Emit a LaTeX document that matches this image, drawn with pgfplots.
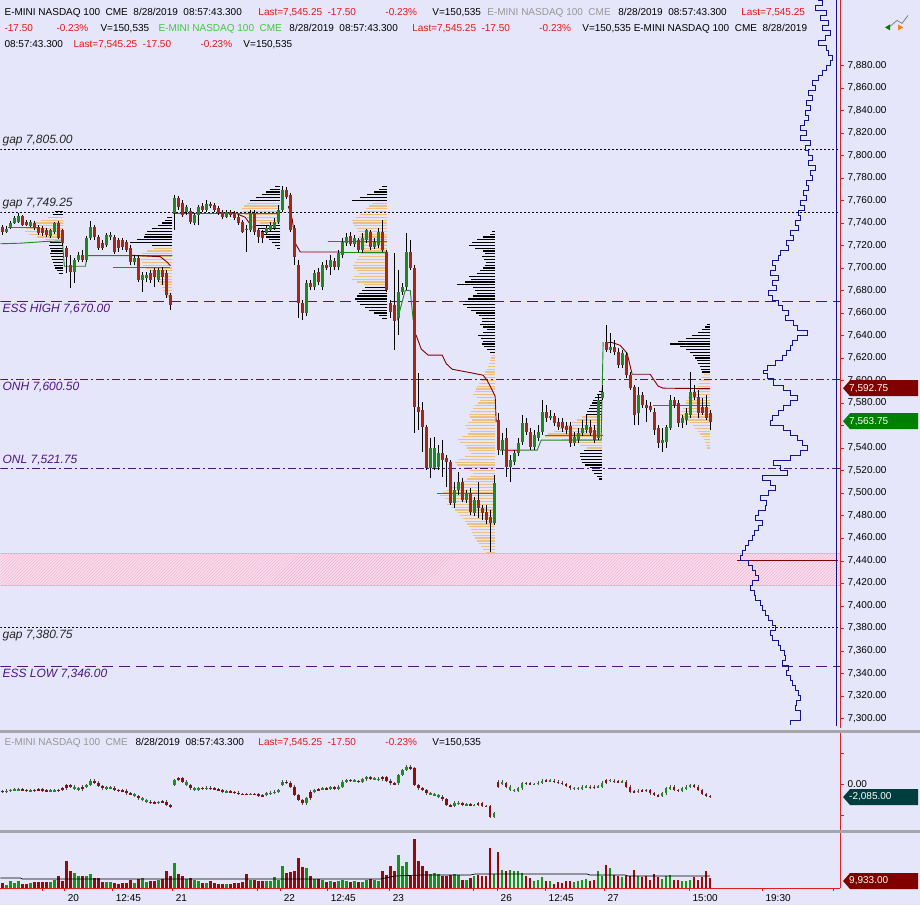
\documentclass[border=0pt]{standalone}
\usepackage{pgfplots}
\pgfplotsset{compat=1.18}
\usepackage{pgfplotstable}
\usepackage{fontspec}
\setmainfont{Liberation Sans}
\usetikzlibrary{patterns}
\definecolor{bg}{RGB}{230,230,250}
\definecolor{axred}{RGB}{220,30,30}
\definecolor{cred}{RGB}{165,40,20}
\definecolor{cgreen}{RGB}{30,135,30}
\definecolor{vred}{RGB}{150,10,10}
\definecolor{vgreen}{RGB}{20,150,20}
\definecolor{tanc}{RGB}{238,192,128}
\definecolor{purp}{RGB}{80,20,130}
\definecolor{maroonc}{RGB}{128,0,0}
\definecolor{pocred}{RGB}{235,40,40}
\definecolor{navyc}{RGB}{20,20,140}
\definecolor{pinkfill}{RGB}{248,222,236}
\definecolor{hatchc}{RGB}{240,175,205}
\definecolor{hdrred}{RGB}{230,20,20}
\definecolor{hdrgray}{RGB}{150,150,150}
\definecolor{hdrgreen}{RGB}{60,200,60}
\definecolor{tealbox}{RGB}{0,62,62}
\definecolor{boxgreen}{RGB}{0,128,0}
\definecolor{sepgray}{RGB}{165,165,170}
\pgfplotsset{
  ebase/.style={draw=none, mark=none, error bars/error mark=none},
  wick/.style={ebase, error bars/y dir=both, error bars/y explicit, error bars/error bar style={draw=black, line width=0.7pt}},
  body/.style={ebase, error bars/y dir=both, error bars/y explicit, error bars/error bar style={draw=#1, line width=3pt}},
  vbar/.style={ebase, error bars/y dir=both, error bars/y explicit, error bars/error bar style={draw=#1, line width=2.6pt}},
  prof/.style={ebase, error bars/x dir=minus, error bars/x explicit, error bars/error bar style={draw=#1, line width=1.2pt}},
  panel/.style={scale only axis, anchor=north west, width=840pt, xmin=0, xmax=840,
    axis background/.style={fill=bg}, axis line style={draw=axred, line width=0.8pt},
    tick align=outside, major tick length=4pt, tick style={draw=axred},
    tick label style={font=\fontsize{10}{12}\selectfont},
    /pgf/number format/assume math mode=true},
}
% x open high low close volume deltaopen deltaclose
\pgfplotstableread{
x o h l c v do dc
2 7736.1 7737.9 7729 7731.7 5200 -1100 -1230
22 7745.9 7746.8 7737 7737.9 4100 -850 -960
26 7740.6 7742.3 7737 7737.9 4300 -960 -1070
34 7739.7 7741.5 7733.5 7735.2 6100 -1010 -960
38 7736.1 7737.9 7729 7730.8 6000 -960 -850
42 7735.2 7737 7728.1 7730.8 6200 -850 -1070
46 7733.5 7735.2 7727.2 7729 5900 -1070 -1120
58 7739.7 7741.5 7725.5 7727.2 12100 -1070 -960
62 7733.5 7735.2 7720.1 7721.9 7200 -960 -690
66 7717.5 7719.3 7695.3 7709.5 27300 -690 -160
70 7702.4 7711.3 7682 7696.2 17100 -160 -430
82 7711.3 7715.7 7705 7706.8 12000 -850 -430
94 7736.1 7737.9 7724.6 7727.2 10200 530 210
98 7727.2 7729 7715.7 7717.5 9800 210 -320
102 7721.9 7724.6 7715.7 7717.5 6000 -320 -690
114 7727.2 7729 7712.1 7713.9 5100 -590 -960
118 7724.6 7726.4 7713.9 7717.5 4200 -960 -1070
122 7724.6 7726.4 7715.7 7718.4 5000 -1070 -1070
126 7722.8 7724.6 7713.9 7715.7 5100 -1070 -1490
130 7717.5 7720.1 7702.4 7705 8200 -1490 -1600
138 7708.6 7711.3 7687.3 7689.1 9100 -1920 -2290
150 7695.3 7697.9 7686.4 7689.1 7100 -2830 -2990
154 7697.9 7699.7 7682.8 7691.7 6900 -2990 -2990
162 7697.9 7700.6 7684.6 7691.7 9200 -2880 -2830
166 7695.3 7697.9 7673.1 7675.7 17200 -2830 -3360
170 7675.7 7677.5 7662.4 7666.9 12100 -3360 -3630
178 7761.9 7764.5 7751.2 7753.9 14100 640 910
182 7757.4 7760.1 7745 7746.8 12000 910 370
190 7750.3 7753 7738.8 7740.6 10100 -160 -690
202 7754.8 7757.4 7749.4 7751.2 5000 -690 -690
210 7756.5 7758.3 7753 7754.8 7100 -590 -690
214 7755.7 7757.4 7749.4 7751.2 5100 -690 -800
218 7753 7754.8 7746.8 7748.6 4200 -800 -960
222 7749.4 7751.2 7743.2 7745 4100 -960 -1230
230 7749.4 7751.2 7745 7746.8 4000 -1230 -1280
234 7748.6 7750.3 7742.3 7744.1 5200 -1280 -1390
238 7745 7746.8 7737.9 7739.7 5100 -1390 -1600
242 7740.6 7742.3 7730.8 7731.7 6200 -1600 -1600
246 7735.2 7737.9 7713.9 7733.5 14200 -1600 -1600
254 7748.6 7751.2 7729 7731.7 8100 -1600 -1600
258 7733.5 7735.2 7721.9 7727.2 7200 -1600 -1920
262 7731.7 7733.5 7721.9 7727.2 6900 -1920 -1760
286 7769 7771.6 7761 7762.8 15200 370 210
290 7764.5 7766.3 7731.7 7733.5 16100 210 -430
294 7735.2 7737.9 7702.4 7709.5 17200 -430 -1760
298 7702.4 7706.8 7655.3 7668.6 30100 -1760 -2560
302 7668.6 7671.3 7653.5 7659.8 21200 -2560 -3090
310 7686.4 7689.1 7680.2 7682.8 12000 -2290 -1230
318 7696.2 7699.7 7684.6 7687.3 9000 -960 -800
326 7702.4 7706.8 7697.9 7699.7 6100 -750 -690
334 7705.9 7708.6 7697.9 7700.6 6000 -530 -690
350 7728.1 7731.7 7719.3 7721 6200 640 530
358 7724.6 7726.4 7713.9 7715.7 6100 480 370
370 7731.7 7733.5 7715.7 7718.4 9100 1070 910
382 7731.7 7742.3 7713.9 7715.7 17100 750 1070
386 7713.9 7715.7 7678.4 7680.2 13000 1070 530
390 7668.6 7671.3 7655.3 7660.6 22100 530 110
394 7666.9 7713 7626.9 7653.5 17000 110 0
410 7713.9 7724.6 7697.9 7699.7 12100 2770 2510
414 7699.7 7702.4 7553.2 7576.3 49200 2510 -160
418 7576.3 7606.5 7555.9 7571.8 27100 -160 -690
422 7573.6 7580.7 7536.3 7558.5 22000 -690 -960
426 7558.5 7560.3 7520.3 7522.1 17100 -960 -1490
442 7535.4 7547 7514.1 7529.2 12100 -2030 -2450
446 7531 7533.7 7505.2 7527.4 12000 -2450 -3360
450 7527.4 7529.2 7489.3 7491 13100 -3360 -3520
462 7509.7 7513.2 7491.9 7493.7 8100 -3090 -3250
470 7499.9 7504.4 7480.4 7483 10200 -3310 -3360
478 7493.7 7509.7 7477.7 7486.6 13000 -3360 -3090
482 7486.6 7489.3 7475.9 7482.2 12100 -3090 -3520
486 7483 7489.3 7472.4 7475.9 11900 -3520 -3520
490 7478.6 7484.8 7447.5 7473.3 40200 -3520 -5230
498 7564.7 7571 7533.7 7538.1 36100 -430 370
506 7548.8 7557.6 7514.1 7523 17000 110 -430
526 7562.1 7566.5 7551.4 7554.1 12000 110 110
530 7554.1 7557.6 7538.1 7540.8 10100 110 0
546 7571.8 7578.1 7563 7566.5 7100 530 530
554 7568.3 7571 7559.4 7562.1 4200 530 370
558 7563 7566.5 7555.9 7558.5 6100 370 210
562 7563 7566.5 7554.1 7557.6 5000 210 0
566 7559.4 7563 7552.3 7555.9 7100 0 -320
570 7559.4 7563 7540.8 7544.3 7000 -320 -690
590 7558.5 7564.7 7550.5 7553.2 7100 -430 -590
594 7555.9 7560.3 7544.3 7547 8000 -590 -430
606 7634 7649.1 7625.1 7626.9 23100 210 640
614 7629.6 7635.8 7622.5 7625.1 13000 530 370
618 7625.1 7628.7 7610.9 7613.6 12100 370 370
626 7622.5 7625.1 7602 7604.7 12000 370 -430
630 7604.7 7607.4 7591.4 7593.2 12200 -430 -1230
634 7594 7595.8 7560.3 7569.2 18100 -1230 -1230
642 7586.9 7589.6 7575.4 7578.1 11000 -1070 -1070
646 7578.1 7582.5 7563 7575.4 12100 -1070 -960
650 7577.2 7580.7 7571.8 7573.6 8000 -960 -1490
654 7571.8 7575.4 7551.4 7555.9 14100 -1490 -1760
658 7557.6 7560.3 7539.9 7544.3 11000 -1760 -1920
674 7582.5 7585.2 7575.4 7578.1 8100 -430 -960
678 7579.8 7582.5 7558.5 7562.1 8000 -960 -1070
694 7589.6 7595.8 7582.5 7585.2 11000 -160 -430
698 7585.2 7591.4 7566.5 7571 8100 -430 -960
702 7576.3 7584.3 7569.2 7571 11100 -960 -1600
706 7576.3 7586.9 7564.7 7566.5 17100 -1600 -1920
710 7571 7573.6 7555.9 7563 9900 -1920 -2030
}\tabR
\pgfplotstableread{
x o h l c v do dc
6 7731.7 7737 7730.8 7735.2 3100 -1230 -1070
10 7735.2 7741.5 7734.3 7739.7 7000 -1070 -960
14 7739.7 7745.9 7738.8 7744.1 5100 -960 -910
18 7740.6 7749.4 7739.7 7745.9 7200 -910 -850
30 7737 7742.3 7736.1 7740.6 5000 -1070 -1010
50 7728.1 7734.3 7726.4 7733.5 6100 -1120 -1070
54 7731.7 7740.6 7729.9 7739.7 8000 -1070 -1070
74 7696.2 7708.6 7686.4 7706.8 15100 -430 -690
78 7706.8 7713.9 7705 7711.3 12200 -690 -850
86 7706.8 7728.1 7705 7726.4 12100 -430 -160
90 7726.4 7742.3 7724.6 7736.1 14000 -160 530
106 7720.1 7730.8 7718.4 7729 6100 -690 -530
110 7727.2 7731.7 7724.6 7729 5900 -530 -590
134 7705 7711.3 7702.4 7708.6 5200 -1600 -1920
142 7689.1 7696.2 7678.4 7693.5 10100 -2290 -2560
146 7690.8 7696.2 7687.3 7693.5 6000 -2560 -2830
158 7689.1 7699.7 7687.3 7697.9 8100 -2990 -2880
174 7748.6 7764.5 7733.5 7761.9 25100 -160 640
186 7749.4 7755.7 7746.8 7753.9 9000 370 -160
194 7739.7 7748.6 7737.9 7746.8 8200 -690 -850
198 7746.8 7755.7 7737.9 7753.9 7100 -850 -690
206 7751.2 7760.1 7749.4 7756.5 5200 -690 -590
226 7745 7751.2 7744.1 7749.4 4000 -1230 -1230
250 7733.5 7751.2 7731.7 7748.6 8000 -1600 -1600
266 7730.8 7737.9 7729 7735.2 7100 -1760 -1490
270 7733.5 7740.6 7731.7 7737.9 7000 -1490 -1390
274 7735.2 7744.1 7733.5 7740.6 11100 -1390 -1230
278 7740.6 7755.7 7738.8 7751.2 8000 -1230 -960
282 7751.2 7772.5 7749.4 7769 22100 -160 370
306 7659.8 7689.1 7657.1 7686.4 20100 -3090 -2290
314 7682.8 7697.9 7680.2 7695.3 9100 -1230 -960
322 7682.8 7705 7680.2 7702.4 8000 -800 -750
330 7700.6 7711.3 7693.5 7706.8 7000 -690 -530
338 7700.6 7715.7 7697.9 7713 7100 -690 -430
342 7711.3 7726.4 7708.6 7722.8 8000 -430 370
346 7721.9 7730.8 7719.3 7727.2 7100 370 640
354 7721 7729 7718.4 7726.4 7000 530 480
362 7715.7 7730.8 7713 7726.4 6000 370 750
366 7724.6 7735.2 7721.9 7733.5 8100 750 1070
374 7718.4 7726.4 7716.6 7722.8 8000 910 850
378 7720.1 7735.2 7717.5 7731.7 7100 850 750
398 7655.3 7697.9 7640.2 7678.4 33100 110 1440
402 7678.4 7686.4 7675.7 7682.8 22200 1440 2240
406 7682.8 7730.8 7680.2 7713.9 26000 2240 2770
430 7522.1 7548.8 7513.2 7539.9 14100 -1490 -1600
434 7522.1 7549.6 7520.3 7539.9 15000 -1600 -1760
438 7523 7542.5 7520.3 7535.4 14100 -1760 -2030
454 7491 7509.7 7486.6 7502.6 14000 -3520 -2990
458 7502.6 7518.6 7498.1 7509.7 13100 -2990 -3090
466 7493.7 7502.6 7491 7499.9 8000 -3250 -3310
474 7482.2 7496.4 7479.5 7493.7 12100 -3360 -3360
494 7473.3 7515.9 7471.5 7508.8 14100 -5230 -4690
502 7538.1 7553.2 7533.7 7547 18200 370 110
510 7523 7533.7 7509.7 7529.2 18000 -430 -960
514 7527.4 7538.1 7524.8 7535.4 17100 -960 -1070
518 7535.4 7548.8 7532.8 7544.3 17000 -1070 -690
522 7545.2 7569.2 7542.5 7562.1 15100 -690 110
534 7540.8 7555.9 7538.1 7551.4 7100 0 0
538 7548.8 7560.3 7546.1 7554.1 8000 0 210
542 7554.1 7582.5 7551.4 7571.8 11100 210 530
550 7566.5 7573.6 7564.7 7568.3 7000 530 530
574 7544.3 7554.1 7541.7 7549.6 6100 -690 -690
578 7547 7557.6 7544.3 7553.2 7000 -690 -690
582 7553.2 7564.7 7550.5 7557.6 8100 -690 -430
586 7555.9 7569.2 7553.2 7560.3 9000 -430 -430
598 7548.8 7586.9 7547 7582.5 17200 -430 -430
602 7584.3 7595.8 7582.5 7589.6 12000 -430 210
610 7626.9 7642 7624.2 7629.6 20100 640 530
622 7613.6 7626.9 7610.9 7624.2 11000 370 370
638 7571 7594 7560.3 7586.9 12000 -1230 -1070
662 7544.3 7557.6 7536.3 7547 9100 -1920 -1490
666 7545.2 7560.3 7539.9 7558.5 12100 -1490 -690
670 7557.6 7586.9 7555.9 7582.5 13000 -690 -430
682 7562.1 7569.2 7557.6 7566.5 7100 -1070 -690
686 7564.7 7575.4 7560.3 7571 7000 -690 -430
690 7569.2 7607.4 7566.5 7589.6 8100 -430 -160
}\tabG
% composite volume profile outline: price, left edge (px)
\pgfplotstableread{
p x
7937.7 818
7933.3 822
7928.8 815
7924.4 826
7919.9 820
7915.5 828
7911.1 822
7906.6 830
7902.2 825
7897.7 818
7893.3 826
7888.9 828
7884.4 832
7880 830
7875.5 826
7871.1 822
7866.7 818
7862.2 812
7857.8 815
7853.3 808
7848.9 812
7844.5 806
7840 810
7835.6 805
7831.1 808
7826.7 804
7822.3 800
7817.8 806
7813.4 800
7808.9 810
7804.5 805
7800.1 808
7795.6 812
7791.2 808
7786.7 815
7782.3 810
7777.9 812
7773.4 806
7769 808
7764.5 803
7760.1 806
7755.7 800
7751.2 804
7746.8 798
7742.3 800
7737.9 795
7733.5 798
7729 790
7724.6 793
7720.1 786
7715.7 788
7711.3 780
7706.8 778
7702.4 772
7697.9 775
7693.5 770
7689.1 778
7684.6 772
7680.2 776
7675.7 768
7671.3 772
7666.9 778
7662.4 782
7658 788
7653.5 785
7649.1 793
7644.7 797
7640.2 807
7635.8 797
7631.3 792
7626.9 790
7622.5 786
7618 782
7613.6 775
7609.1 767
7606.5 763
7602 767
7595.8 773
7591.4 783
7586.9 790
7582.5 797
7578.1 790
7573.6 783
7569.2 778
7564.7 772
7560.3 770
7555.9 783
7551.4 790
7547 797
7542.5 802
7538.1 807
7533.7 800
7529.2 790
7524.8 773
7520.3 780
7515.9 787
7511.5 762
7507 770
7502.6 775
7498.1 768
7493.7 760
7489.3 766
7484.8 765
7480.4 758
7475.9 755
7471.5 762
7467.1 758
7462.6 754
7458.2 752
7453.7 748
7449.3 745
7444.9 742
7440.4 740
7436 748
7431.5 752
7427.1 755
7422.7 758
7418.2 752
7413.8 750
7409.3 754
7404.9 755
7400.5 760
7396 762
7391.6 765
7387.1 768
7382.7 772
7378.3 775
7373.8 770
7369.4 772
7364.9 778
7360.5 780
7356.1 784
7351.6 785
7347.2 782
7342.7 788
7338.3 786
7333.9 790
7329.4 792
7325 795
7320.5 798
7316.1 800
7311.7 796
7307.2 795
7302.8 800
7298.3 800
7293.9 790
}\tabBlue
\begin{document}
\begin{tikzpicture}[x=1pt,y=1pt]
\fill[bg] (0,0) rectangle (920,-905);
\coordinate (P1) at (0,0);
\coordinate (P2) at (0,-733);
\coordinate (P3) at (0,-833);
%================ MAIN PRICE PANEL ================
\begin{axis}[panel, at={(P1)}, height=728pt, ymin=7291.2, ymax=7937.7,
  axis x line=none, axis y line*=right,
  ytick={7300,7320,...,7540,7580,7600,...,7880},
  extra y ticks={7560}, extra y tick labels={},
  yticklabel style={/pgf/number format/.cd, fixed, fixed zerofill, precision=2, 1000 sep={,}}]
% hatched zone
\fill[pinkfill] (axis cs:0,7418.2) rectangle (axis cs:840,7446.6);
\fill[pattern=north east lines, pattern color=hatchc] (axis cs:0,7418.2) rectangle (axis cs:840,7446.6);
\draw[hatchc, line width=0.8pt] (axis cs:0,7418.2) -- (axis cs:840,7418.2);
\draw[hatchc, line width=0.8pt] (axis cs:0,7446.6) -- (axis cs:840,7446.6);
% levels
\addplot[black, line width=0.8pt, dash pattern=on 2pt off 2pt] coordinates {(0,7805) (840,7805)};
\addplot[black, line width=0.8pt, dash pattern=on 2pt off 2pt] coordinates {(0,7749.25) (840,7749.25)};
\addplot[black, line width=0.8pt, dash pattern=on 2pt off 2pt] coordinates {(0,7380.75) (840,7380.75)};
\addplot[purp, line width=1pt, dash pattern=on 11pt off 6pt] coordinates {(0,7670) (840,7670)};
\addplot[purp, line width=1pt, dash pattern=on 11pt off 6pt] coordinates {(0,7346) (840,7346)};
\addplot[purp, line width=1pt, dash pattern=on 8pt off 3pt on 2pt off 3pt] coordinates {(0,7600.5) (840,7600.5)};
\addplot[purp, line width=1pt, dash pattern=on 8pt off 3pt on 2pt off 3pt] coordinates {(0,7521.75) (840,7521.75)};
% session volume profiles (price, width in px)
\addplot[prof=black] table[x expr=63, y=p, x error=w] {
p w
7750 8
7747.5 10
7745 11
7742.5 12
7740 12
7737.5 12
7735 12
7732.5 12
7730 12
7727.5 12
7725 12
7722.5 13
7720 14
7717.5 13
7715 12
7712.5 13
7710 12
7707.5 11
7705 10
7702.5 9
7700 8
7697.5 6
7695 4
};
\addplot[prof=tanc] table[x expr=63, y=p, x error=w] {
p w
7745 15
7742.5 22
7740 28
7737.5 33
7735 37
7732.5 38
7730 34
7727.5 26
7725 18
};
\addplot[prof=black] table[x expr=172, y=p, x error=w] {
p w
7745 5
7742.5 7
7740 10
7737.5 14
7735 20
7732.5 25
7730 27
7727.5 28
7725 35
7722.5 42
7720 20
};
\addplot[prof=tanc] table[x expr=172, y=p, x error=w] {
p w
7717.5 18
7715 25
7712.5 30
7710 32
7707.5 31
7705 30
7702.5 29
7700 26
7697.5 22
7695 20
7692.5 17
7690 15
7687.5 13
7685 12
7682.5 10
7680 9
7677.5 7
7675 5
};
\addplot[prof=black] table[x expr=280, y=p, x error=w] {
p w
7772.5 5
7770 10
7767.5 14
7765 18
7762.5 24
7760 30
7737.5 25
7735 22
7732.5 19
7730 17
7727.5 14
7725 11
7722.5 8
7720 5
7717.5 3
};
\addplot[prof=tanc] table[x expr=280, y=p, x error=w] {
p w
7757.5 33
7755 36
7752.5 38
7750 37
7747.5 35
7745 33
7742.5 28
7740 20
};
\addplot[prof=black] table[x expr=387, y=p, x error=w] {
p w
7772.5 5
7770 8
7767.5 13
7765 20
7762.5 27
7760 35
7682.5 22
7680 25
7677.5 28
7675 30
7672.5 32
7670 30
7667.5 27
7665 22
7662.5 18
7660 13
7657.5 8
7655 5
};
\addplot[prof=tanc] table[x expr=387, y=p, x error=w] {
p w
7757.5 15
7755 18
7752.5 21
7750 23
7747.5 27
7745 31
7742.5 35
7740 34
7737.5 33
7735 30
7732.5 29
7730 27
7727.5 28
7725 28
7722.5 27
7720 26
7717.5 25
7715 24
7712.5 26
7710 28
7707.5 30
7705 32
7702.5 34
7700 33
7697.5 30
7695 28
7692.5 33
7690 35
7687.5 30
7685 23
};
\addplot[prof=black] table[x expr=495, y=p, x error=w] {
p w
7732.5 3
7730 5
7727.5 12
7725 18
7722.5 23
7720 26
7717.5 20
7715 12
7712.5 10
7710 13
7707.5 11
7705 9
7702.5 10
7700 12
7697.5 15
7695 18
7692.5 26
7690 24
7687.5 30
7685 38
7682.5 22
7680 20
7677.5 18
7675 22
7672.5 27
7670 30
7667.5 32
7665 28
7662.5 24
7660 19
7657.5 16
7655 13
7652.5 13
7650 15
7647.5 12
7645 8
7642.5 12
7640 17
7637.5 14
7635 12
7632.5 13
7630 11
7627.5 8
7625 5
};
\addplot[prof=tanc] table[x expr=495, y=p, x error=w] {
p w
7622.5 3
7620 4
7617.5 5
7615 6
7612.5 7
7610 8
7607.5 10
7605 11
7602.5 12
7600 14
7597.5 16
7595 18
7592.5 19
7590 20
7587.5 22
7585 18
7582.5 15
7580 17
7577.5 20
7575 22
7572.5 24
7570 26
7567.5 25
7565 23
7562.5 27
7560 30
7557.5 28
7555 25
7552.5 27
7550 33
7547.5 37
7545 35
7542.5 30
7540 28
7537.5 26
7535 24
7532.5 30
7530 36
7527.5 40
7525 38
7522.5 30
7520 25
7517.5 22
7515 25
7512.5 28
7510 33
7507.5 38
7505 43
7502.5 48
7500 52
7497.5 55
7495 50
7492.5 45
7490 48
7487.5 44
7485 40
7482.5 37
7480 35
7477.5 32
7475 30
7472.5 28
7470 26
7467.5 24
7465 23
7462.5 22
7460 20
7457.5 18
7455 16
7452.5 14
7450 12
7447.5 9
};
\addplot[prof=black] table[x expr=602, y=p, x error=w] {
p w
7590 3
7587.5 5
7585 7
7582.5 9
7580 10
7577.5 12
7575 13
7572.5 15
7570 16
7537.5 18
7535 22
7532.5 22
7530 21
7527.5 20
7525 17
7522.5 12
7520 10
7517.5 8
7515 5
7512.5 3
};
\addplot[prof=tanc] table[x expr=602, y=p, x error=w] {
p w
7567.5 20
7565 25
7562.5 30
7560 36
7557.5 42
7555 48
7552.5 54
7550 57
7547.5 40
7545 30
7542.5 22
7540 15
};
\addplot[prof=black] table[x expr=710, y=p, x error=w] {
p w
7650 3
7647.5 5
7645 8
7642.5 12
7640 18
7637.5 24
7635 32
7632.5 40
7630 30
7627.5 24
7625 20
7622.5 17
7620 15
7617.5 13
7615 12
7612.5 10
7610 9
7607.5 8
};
\addplot[prof=tanc] table[x expr=710, y=p, x error=w] {
p w
7605 6
7602.5 8
7600 9
7597.5 11
7595 12
7592.5 14
7590 17
7587.5 20
7585 22
7582.5 24
7580 24
7577.5 25
7575 27
7572.5 28
7570 30
7567.5 28
7565 25
7562.5 20
7560 17
7557.5 15
7555 12
7552.5 10
7550 8
7547.5 6
7545 5
7542.5 4
7540 3
};
% developing value lines
\addplot[cgreen, line width=0.9pt] coordinates {(0,7721.5) (20,7722) (45,7723.5) (62,7724) (64,7701.5) (85,7701.5) (87,7711) (172,7711)};
\addplot[cgreen, line width=0.9pt] coordinates {(173,7748.3) (280,7748.3)};
\addplot[cgreen, line width=0.9pt] coordinates {(340,7714.2) (387,7714.2)};
\addplot[cgreen, line width=0.9pt] coordinates {(397,7653.5) (405,7680) (410,7680) (413,7653.5)};
\addplot[cgreen, line width=0.9pt] coordinates {(500,7538.1) (537,7538.1) (541,7547) (601,7547) (603,7634)};
\addplot[maroonc, line width=0.9pt] coordinates {(130,7711.3) (160,7710) (167,7705) (170,7702)};
\addplot[maroonc, line width=0.9pt] coordinates {(237,7748) (245,7745) (252,7736)};
\addplot[maroonc, line width=0.9pt] coordinates {(288,7755) (292,7743) (295,7722) (300,7714.2) (340,7714.2)};
\addplot[maroonc, line width=0.9pt] coordinates {(413,7642.6) (416,7640) (421,7628) (428,7622.5) (442,7622.5) (446,7615) (452,7610) (470,7607) (483,7604.7) (487,7600) (490,7595) (495,7586) (496,7563)};
\addplot[maroonc, line width=0.9pt] coordinates {(605,7633.1) (611,7634) (620,7631.3) (627,7624.2) (632,7605.6) (650,7605.6) (658,7595) (663,7593.2) (710,7592.75)};
\addplot[pocred, line width=0.9pt] coordinates {(8,7736.1) (37,7736.1)};
\addplot[pocred, line width=0.9pt] coordinates {(113,7700.6) (170,7700.6)};
\addplot[pocred, line width=0.9pt] coordinates {(235,7748.3) (252,7748.3)};
\addplot[pocred, line width=0.9pt] coordinates {(328,7723.7) (387,7723.7)};
\addplot[pocred, line width=0.9pt] coordinates {(437,7499.9) (493,7499.9)};
\addplot[pocred, line width=0.9pt] coordinates {(508,7538.1) (520,7538.1)};
\addplot[pocred, line width=0.9pt] coordinates {(545,7551.4) (603,7551.4)};
\addplot[pocred, line width=0.9pt] coordinates {(653,7578.1) (710,7578.1)};
% candles
\addplot[wick] table[x=x, y expr=(\thisrow{h}+\thisrow{l})/2, y error expr=(\thisrow{h}-\thisrow{l})/2] \tabR;
\addplot[wick] table[x=x, y expr=(\thisrow{h}+\thisrow{l})/2, y error expr=(\thisrow{h}-\thisrow{l})/2] \tabG;
\addplot[body=cred] table[x=x, y expr=(\thisrow{o}+\thisrow{c})/2, y error expr={max(abs(\thisrow{o}-\thisrow{c})/2,0.5)}] \tabR;
\addplot[body=cgreen] table[x=x, y expr=(\thisrow{o}+\thisrow{c})/2, y error expr={max(abs(\thisrow{o}-\thisrow{c})/2,0.5)}] \tabG;
% composite profile
\addplot[maroonc, line width=1pt] coordinates {(737,7440.4) (838,7440.4)};
\addplot[const plot, navyc, line width=0.7pt] table[x=x, y=p] \tabBlue;
\addplot[navyc, line width=0.8pt] coordinates {(836,7293) (836,7937.7)};
\end{axis}
%================ CUMULATIVE DELTA PANEL ================
\begin{axis}[panel, at={(P2)}, height=97pt, ymin=-7360, ymax=8160,
  axis x line=none, axis y line*=right,
  ytick={-5000,0,5000}, yticklabels={,0.00,}]
\addplot[ebase, error bars/y dir=both, error bars/y explicit, error bars/error bar style={draw=black!70, line width=0.5pt}]
  table[x=x, y expr=(\thisrow{do}+\thisrow{dc})/2, y error expr={abs(\thisrow{do}-\thisrow{dc})/2+220}] \tabR;
\addplot[ebase, error bars/y dir=both, error bars/y explicit, error bars/error bar style={draw=black!70, line width=0.5pt}]
  table[x=x, y expr=(\thisrow{do}+\thisrow{dc})/2, y error expr={abs(\thisrow{do}-\thisrow{dc})/2+220}] \tabG;
\addplot[vbar=vred] table[x=x, y expr=(\thisrow{do}+\thisrow{dc})/2, y error expr={max(abs(\thisrow{do}-\thisrow{dc})/2,90)}] \tabR;
\addplot[vbar=vgreen] table[x=x, y expr=(\thisrow{do}+\thisrow{dc})/2, y error expr={max(abs(\thisrow{do}-\thisrow{dc})/2,90)}] \tabG;
\end{axis}
%================ VOLUME PANEL ================
\begin{axis}[panel, at={(P3)}, height=55pt, ymin=0, ymax=55000,
  axis x line*=bottom, axis y line*=right, ytick=\empty,
  major tick length=3pt,
  xtick={64,112,172,280,327,389,497,545,604,689,762},
  xticklabels={20,12:45,21,22,12:45,23,26,12:45,27,15:00,19:30},
  xticklabel style={anchor=north west},
  extra x ticks={42,257,473,833}, extra x tick labels={}]
\addplot[vbar=vred] table[x=x, y expr=\thisrow{v}/2, y error expr=\thisrow{v}/2] \tabR;
\addplot[vbar=vgreen] table[x=x, y expr=\thisrow{v}/2, y error expr=\thisrow{v}/2] \tabG;
\addplot[black, line width=0.7pt] coordinates {(0,10000) (20,10000) (22,9000) (380,9000) (395,12000) (420,13000) (470,13000) (475,14000) (587,14000) (590,13000) (625,13000) (628,12000) (710,12000)};
\end{axis}
%================ decorations ================
\fill[sepgray] (0,-729.5) rectangle (920,-732.5);
\fill[sepgray] (0,-830) rectangle (920,-833);
% level labels
\begin{scope}[every node/.style={anchor=base west, inner sep=0pt, font=\fontsize{12}{14}\selectfont\itshape}]
\node[text=black!85] at (2,-143.3) {gap 7,805.00};
\node[text=black!85] at (2,-206.3) {gap 7,749.25};
\node[text=purp] at (2,-312.3) {ESS HIGH 7,670.00};
\node[text=purp] at (2,-390.3) {ONH 7,600.50};
\node[text=purp] at (2,-463.3) {ONL 7,521.75};
\node[text=black!85] at (2,-638.3) {gap 7,380.75};
\node[text=purp] at (2,-677.3) {ESS LOW 7,346.00};
\end{scope}
% header lines
\begin{scope}[every node/.style={anchor=base west, inner sep=0pt, font=\fontsize{10}{12}\selectfont}]
\node at (4,-15.6) {E-MINI NASDAQ 100\ \ CME\ \ 8/28/2019\ \ 08:57:43.300};
\node[text=hdrred] at (258,-15.6) {Last=7,545.25\ \ -17.50};
\node[text=hdrred] at (385,-15.6) {-0.23\%};
\node at (432,-15.6) {V=150,535};
\node[text=hdrgray] at (487,-15.6) {E-MINI NASDAQ 100\ \ CME};
\node at (618,-15.6) {8/28/2019\ \ 08:57:43.300};
\node[text=hdrred] at (741,-15.6) {Last=7,545.25};
\node[text=hdrred] at (4,-31.6) {-17.50};
\node[text=hdrred] at (56,-31.6) {-0.23\%};
\node at (100,-31.6) {V=150,535};
\node[text=hdrgreen] at (158,-31.6) {E-MINI NASDAQ 100\ \ CME};
\node at (289,-31.6) {8/28/2019\ \ 08:57:43.300};
\node[text=hdrred] at (412,-31.6) {Last=7,545.25\ \ -17.50};
\node[text=hdrred] at (539,-31.6) {-0.23\%};
\node at (582,-31.6) {V=150,535\ E-MINI NASDAQ 100\ \ CME\ \ 8/28/2019};
\node at (4,-47.6) {08:57:43.300};
\node[text=hdrred] at (73,-47.6) {Last=7,545.25\ \ -17.50};
\node[text=hdrred] at (200,-47.6) {-0.23\%};
\node at (243,-47.6) {V=150,535};
\node[text=hdrgray] at (4,-745.6) {E-MINI NASDAQ 100\ \ CME};
\node at (135,-745.6) {8/28/2019\ \ 08:57:43.300};
\node[text=hdrred] at (258,-745.6) {Last=7,545.25\ \ -17.50};
\node[text=hdrred] at (385,-745.6) {-0.23\%};
\node at (432,-745.6) {V=150,535};
\end{scope}
% value boxes on the price scale
\newcommand{\valbox}[4]{%
  \fill[#2] (843,#1) -- (850,#1+8) -- (918,#1+8) -- (918,#1-8) -- (850,#1-8) -- cycle;
  \node[anchor=west, inner sep=0pt, text=#3, font=\fontsize{10}{12}\selectfont] at (849,#1) {#4};}
\valbox{-388}{maroonc}{white}{7,592.75}
\valbox{-421}{boxgreen}{white}{7,563.75}
\valbox{-797}{tealbox}{white}{-2,085.00}
\valbox{-881}{maroonc}{white}{9,933.00}
% chart-type icon
\draw[gray, line width=0.8pt] (890,-26) -- (897,-20) -- (902,-23) -- (908,-15);
\fill[boxgreen] (885,-27) -- (890,-24) -- (890,-30) -- cycle;
\fill[orange] (903,-27) -- (898,-24) -- (898,-30) -- cycle;
\end{tikzpicture}
\end{document}
